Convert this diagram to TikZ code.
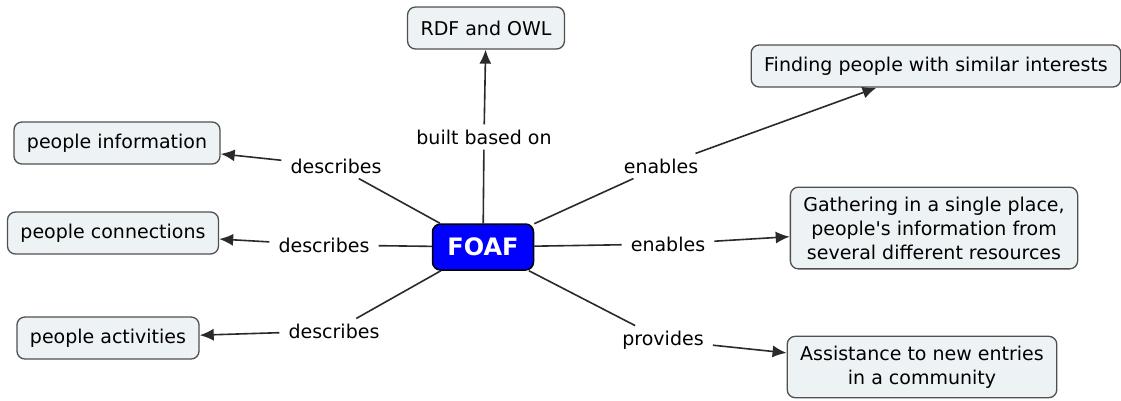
\documentclass[tikz,border=0pt]{standalone}
\usepackage{fontspec}
\setmainfont{DejaVu Sans}
\usetikzlibrary{arrows.meta}

\definecolor{boxfill}{HTML}{EDF2F5}
\definecolor{boxline}{HTML}{505050}
\definecolor{linkgray}{HTML}{2A2A2A}

\tikzset{
	concept/.style={draw=boxline, line width=1.3pt, fill=boxfill, rounded corners=8pt,
		inner xsep=13pt, inner ysep=9.5pt, minimum height=42pt, align=center,
		font=\fontsize{19}{24}\selectfont},
	hub/.style={draw=black, line width=1.5pt, fill=blue, rounded corners=8pt, text=white,
		minimum width=101pt, minimum height=46pt, font=\fontsize{24}{28}\selectfont\bfseries},
	link/.style={inner xsep=9pt, inner ysep=5pt, font=\fontsize{19}{24}\selectfont},
	tie/.style={draw=linkgray, line width=1.6pt},
	pointer/.style={tie, -{Latex[length=14pt,width=12pt]}}
}

\begin{document}
\begin{tikzpicture}[x=1pt, y=-1pt]
		%%%%% START %%%%%
		\fill[white] (0, 0) rectangle (1121, 400);
		\useasboundingbox (0, 0) rectangle (1121, 400);
		
		\node[hub] (foaf) at (483, 247) {FOAF};
		
		\node[concept] (rdf) at (486, 28) {RDF and OWL};
		\node[concept] (finding) at (936, 66) {Finding people with similar interests};
		\node[concept] (info) at (117, 143) {people information};
		\node[concept] (conn) at (113, 233) {people connections};
		\node[concept] (act) at (108, 338) {people activities};
		\node[concept] (gather) at (934, 228) {Gathering in a single place,\\people\textquotesingle s information from\\several different resources};
		\node[concept] (assist) at (922, 367) {Assistance to new entries\\in a community};
		
		\node[link] (built) at (484, 137) {built based on};
		\node[link] (descA) at (336, 166) {describes};
		\node[link] (descB) at (324, 245) {describes};
		\node[link] (descC) at (334, 331) {describes};
		\node[link] (enA) at (661, 166) {enables};
		\node[link] (enB) at (668, 244) {enables};
		\node[link] (prov) at (663, 340) {provides};
		
		\draw[tie] (foaf) -- (built);
		\draw[pointer] (built) -- (rdf);
		\draw[tie] (foaf) -- (descA);
		\draw[pointer] (descA) -- (info);
		\draw[tie] (foaf) -- (descB);
		\draw[pointer] (descB) -- (conn);
		\draw[tie] (foaf) -- (descC);
		\draw[pointer] (descC) -- (act);
		\draw[tie] (foaf) -- (enA);
		\draw[pointer] (enA) -- (finding);
		\draw[tie] (foaf) -- (enB);
		\draw[pointer] (enB) -- (gather);
		\draw[tie] (foaf) -- (prov);
		\draw[pointer] (prov) -- (assist);
		%%%%% END %%%%%
\end{tikzpicture}
\end{document}
